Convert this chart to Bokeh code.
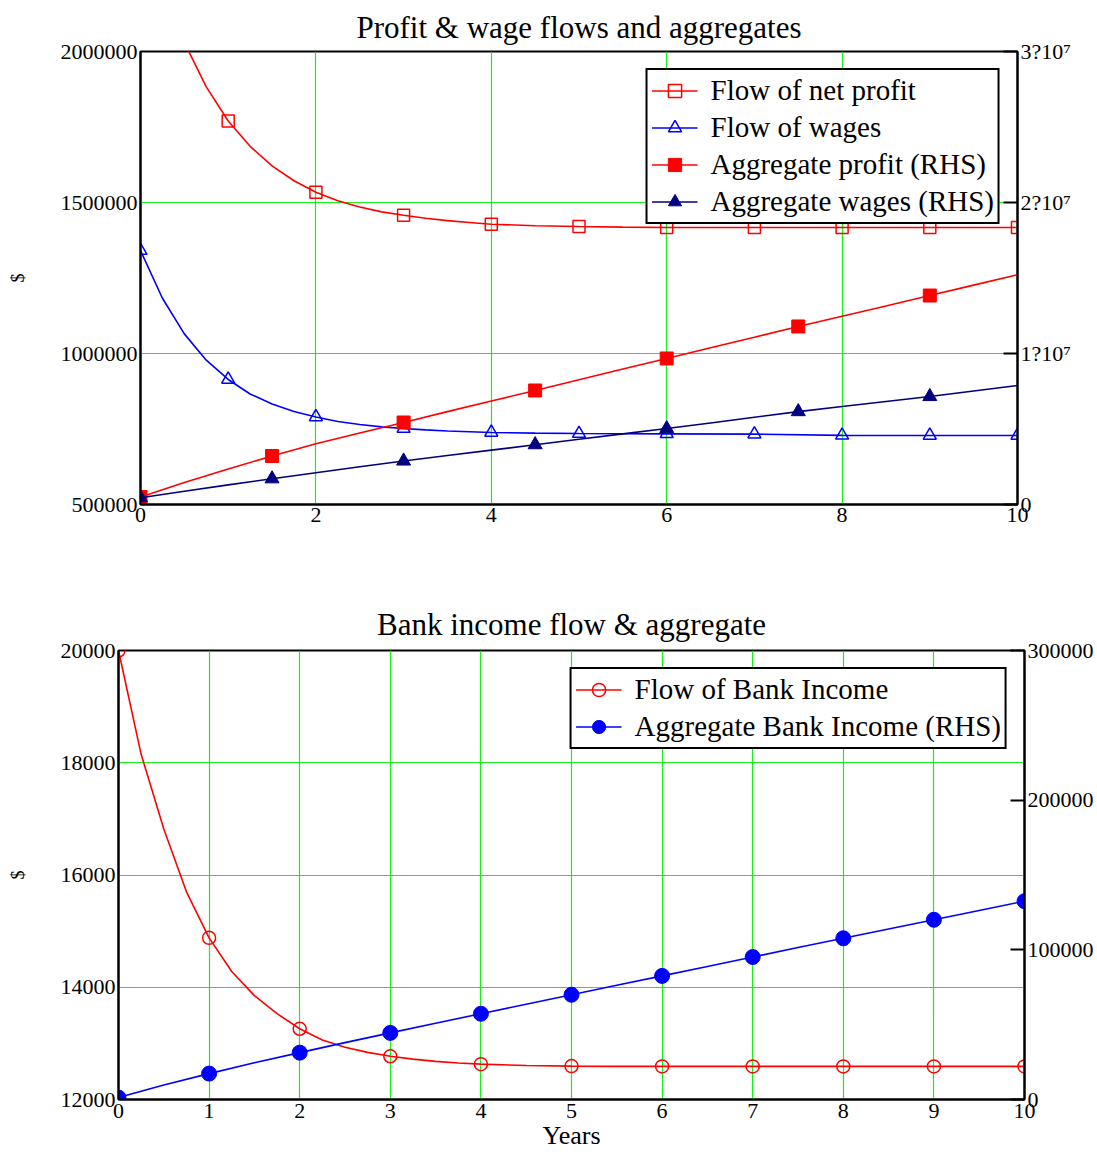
from bokeh.plotting import figure
from bokeh.models import (Range1d, LinearAxis, FixedTicker, Legend, LegendItem,
                          CustomJSTickFormatter, BasicTickFormatter)
from bokeh.layouts import column, row
from bokeh.embed import file_html
from bokeh.resources import INLINE

FONT = "Liberation Serif"

# ---------------- data ----------------
years_flow = [0, 0.25, 0.5, 0.75, 1, 1.25, 1.5, 1.75, 2, 2.25, 2.5, 2.75, 3,
              3.25, 3.5, 3.75, 4, 4.5, 5, 5.5, 6, 7, 8, 9, 10]
profit_flow = [2480000, 2224000, 2030000, 1883000, 1770000, 1686000, 1621000,
               1572000, 1534000, 1506000, 1485000, 1469000, 1458000, 1448000,
               1440000, 1434000, 1428000, 1423000, 1420500, 1418500, 1417000,
               1417000, 1417000, 1417000, 1417000]
wage_flow = [1341000, 1183000, 1065000, 978000, 914000, 866000, 833000, 808000,
             790000, 775000, 765000, 757000, 751500, 747000, 743500, 741000,
             738500, 736500, 735000, 734500, 734000, 733000, 729000, 728500,
             728500]

years_agg = [0, 0.5, 1, 1.5, 2, 2.5, 3, 3.5, 4, 4.5, 5, 5.5, 6, 6.5, 7, 7.5,
             8, 8.5, 9, 9.5, 10]
agg_profit = [500000, 1450000, 2350000, 3210000, 4020000, 4740000, 5430000,
              6150000, 6850000, 7550000, 8260000, 8970000, 9670000, 10380000,
              11080000, 11790000, 12470000, 13150000, 13840000, 14530000,
              15210000]
agg_wages = [450000, 880000, 1300000, 1700000, 2100000, 2500000, 2880000,
             3240000, 3600000, 3960000, 4320000, 4680000, 5030000, 5400000,
             5780000, 6150000, 6490000, 6820000, 7150000, 7520000, 7880000]

bank_flow = [20000, 18150, 16820, 15700, 14880, 14280, 13850, 13530, 13260,
             13060, 12930, 12840, 12770, 12720, 12680, 12650, 12630, 12605,
             12595, 12590, 12590, 12590, 12590, 12590, 12590]
bank_agg = [1300, 9700, 17300, 24600, 31300, 38000, 44500, 51000, 57300,
            63700, 70000, 76300, 82600, 88900, 95200, 101500, 107700, 113900,
            120100, 126300, 132500]

flow_marker_years = [0, 1, 2, 3, 4, 5, 6, 7, 8, 9, 10]
agg_marker_years_top = [0, 1.5, 3, 4.5, 6, 7.5, 9]
agg_marker_years_bottom = [0, 1, 2, 3, 4, 5, 6, 7, 8, 9, 10]

top_x_ticks = [0, 2, 4, 6, 8, 10]
top_left_ticks = [500000, 1000000, 1500000, 2000000]
top_right_ticks = [0, 10000000, 20000000, 30000000]
bot_x_ticks = [0, 1, 2, 3, 4, 5, 6, 7, 8, 9, 10]
bot_left_ticks = [12000, 14000, 16000, 18000, 20000]
bot_right_ticks = [0, 100000, 200000, 300000]


def pick(xs, ys, keep):
    px, py = [], []
    for x, y in zip(xs, ys):
        if x in keep:
            px.append(x)
            py.append(y)
    return px, py


GRID = "#00ee00"


def style_axis(ax, tick_in=0, standoff=3, size="22px"):
    ax.axis_line_color = "black"
    ax.axis_line_width = 2
    ax.major_tick_in = tick_in
    ax.major_tick_out = 0
    ax.major_tick_line_color = "black"
    ax.major_tick_line_width = 2
    ax.minor_tick_line_color = None
    ax.major_label_text_font = FONT
    ax.major_label_text_font_size = size
    ax.major_label_text_color = "black"
    ax.major_label_standoff = standoff
    ax.axis_label_text_font = FONT
    ax.axis_label_text_font_style = "normal"
    ax.axis_label_text_color = "black"


def style_fig(p):
    p.outline_line_color = "black"
    p.outline_line_width = 2
    p.outline_line_alpha = 1.0
    p.background_fill_color = "white"
    p.border_fill_color = "white"
    p.xgrid.grid_line_color = GRID
    p.ygrid.grid_line_color = GRID
    p.xgrid.grid_line_width = 1.2
    p.ygrid.grid_line_width = 1.2
    p.xgrid.grid_line_alpha = 0.9
    p.ygrid.grid_line_alpha = 0.9
    p.title.text_font = FONT
    p.title.text_font_size = "31px"
    p.title.text_font_style = "normal"
    p.title.text_color = "black"
    p.title.align = "center"


def style_legend(lg):
    lg.location = "top_right"
    lg.label_text_font = FONT
    lg.label_text_font_size = "29px"
    lg.label_text_color = "black"
    lg.glyph_width = 46
    lg.glyph_height = 33
    lg.label_height = 33
    lg.padding = 4
    lg.spacing = 4
    lg.label_standoff = 13
    lg.margin = 17
    lg.border_line_color = "black"
    lg.border_line_width = 2
    lg.border_line_alpha = 1.0
    lg.background_fill_color = "white"
    lg.background_fill_alpha = 1.0


# ---------------- top chart ----------------
p1 = figure(width=1097, height=533, title="Profit & wage flows and aggregates",
            x_range=Range1d(0, 10), y_range=Range1d(500000, 2000000),
            output_backend="svg", toolbar_location=None,
            min_border_left=140, min_border_right=80,
            min_border_top=51, min_border_bottom=29)
p1.extra_y_ranges = {"rhs": Range1d(0, 30000000)}
style_fig(p1)
p1.title.standoff = 14

p1.xaxis.ticker = FixedTicker(ticks=top_x_ticks)
p1.yaxis.ticker = FixedTicker(ticks=top_left_ticks)
p1.yaxis.formatter = BasicTickFormatter(use_scientific=False)
p1.yaxis.axis_label = "$"
p1.yaxis.axis_label_text_font_size = "18px"
p1.yaxis.axis_label_standoff = 30
for ax in p1.xaxis:
    style_axis(ax, standoff=3)
for ax in p1.yaxis:
    style_axis(ax, standoff=3)

rax1 = LinearAxis(y_range_name="rhs", ticker=FixedTicker(ticks=top_right_ticks),
                  formatter=CustomJSTickFormatter(code="""
                      if (tick == 0) { return '0'; }
                      return (tick / 1e7).toFixed(0) + '?10\u2077';
                  """))
style_axis(rax1, tick_in=14, standoff=3)
p1.add_layout(rax1, "right")

l_pf = p1.line(years_flow, profit_flow, line_color="#ff0000", line_width=1.6)
mx, my = pick(years_flow, profit_flow, flow_marker_years)
s_pf = p1.scatter(mx, my, marker="square", size=12, fill_color=None,
                  line_color="#ff0000", line_width=1.5)

l_wf = p1.line(years_flow, wage_flow, line_color="#0000ff", line_width=1.6)
mx, my = pick(years_flow, wage_flow, flow_marker_years)
s_wf = p1.scatter(mx, my, marker="triangle", size=13, fill_color=None,
                  line_color="#0000ff", line_width=1.5)

l_ap = p1.line(years_agg, agg_profit, line_color="#ff0000", line_width=1.6,
               y_range_name="rhs")
mx, my = pick(years_agg, agg_profit, agg_marker_years_top)
s_ap = p1.scatter(mx, my, marker="square", size=13, fill_color="#ff0000",
                  line_color="#ff0000", y_range_name="rhs")

l_aw = p1.line(years_agg, agg_wages, line_color="#000080", line_width=1.6,
               y_range_name="rhs")
mx, my = pick(years_agg, agg_wages, agg_marker_years_top)
s_aw = p1.scatter(mx, my, marker="triangle", size=14, fill_color="#000080",
                  line_color="#000080", y_range_name="rhs")

leg1 = Legend(items=[
    LegendItem(label="Flow of net profit", renderers=[l_pf, s_pf]),
    LegendItem(label="Flow of wages", renderers=[l_wf, s_wf]),
    LegendItem(label="Aggregate profit (RHS)", renderers=[l_ap, s_ap]),
    LegendItem(label="Aggregate wages (RHS)", renderers=[l_aw, s_aw]),
])
style_legend(leg1)
p1.add_layout(leg1)

# ---------------- bottom chart ----------------
p2 = figure(width=1097, height=625, title="Bank income flow & aggregate",
            x_range=Range1d(0, 10), y_range=Range1d(12000, 20000),
            output_backend="svg", toolbar_location=None,
            min_border_left=118, min_border_right=73,
            min_border_top=117, min_border_bottom=59)
p2.extra_y_ranges = {"rhs": Range1d(0, 300000)}
style_fig(p2)
p2.title.standoff = 17

p2.xaxis.ticker = FixedTicker(ticks=bot_x_ticks)
p2.xaxis.axis_label = "Years"
p2.xaxis.axis_label_text_font_size = "26px"
p2.xaxis.axis_label_standoff = 0
p2.yaxis.ticker = FixedTicker(ticks=bot_left_ticks)
p2.yaxis.formatter = BasicTickFormatter(use_scientific=False)
p2.yaxis.axis_label = "$"
p2.yaxis.axis_label_text_font_size = "18px"
p2.yaxis.axis_label_standoff = 30
for ax in p2.xaxis:
    style_axis(ax, standoff=4)
for ax in p2.yaxis:
    style_axis(ax, standoff=3)

rax2 = LinearAxis(y_range_name="rhs", ticker=FixedTicker(ticks=bot_right_ticks),
                  formatter=BasicTickFormatter(use_scientific=False))
style_axis(rax2, tick_in=14, standoff=3)
p2.add_layout(rax2, "right")

l_bf = p2.line(years_flow, bank_flow, line_color="#ff0000", line_width=1.6)
mx, my = pick(years_flow, bank_flow, flow_marker_years)
s_bf = p2.scatter(mx, my, marker="circle", size=13, fill_color=None,
                  line_color="#ff0000", line_width=1.5)

l_ba = p2.line(years_agg, bank_agg, line_color="#0000ff", line_width=1.6,
               y_range_name="rhs")
mx, my = pick(years_agg, bank_agg, agg_marker_years_bottom)
s_ba = p2.scatter(mx, my, marker="circle", size=15, fill_color="#0000ff",
                  line_color="#0000ff", y_range_name="rhs")

leg2 = Legend(items=[
    LegendItem(label="Flow of Bank Income", renderers=[l_bf, s_bf]),
    LegendItem(label="Aggregate Bank Income (RHS)", renderers=[l_ba, s_ba]),
])
style_legend(leg2)
p2.add_layout(leg2)

layout = column(row(p1), row(p2))

open("out.html", "w").write(file_html(layout, INLINE))
